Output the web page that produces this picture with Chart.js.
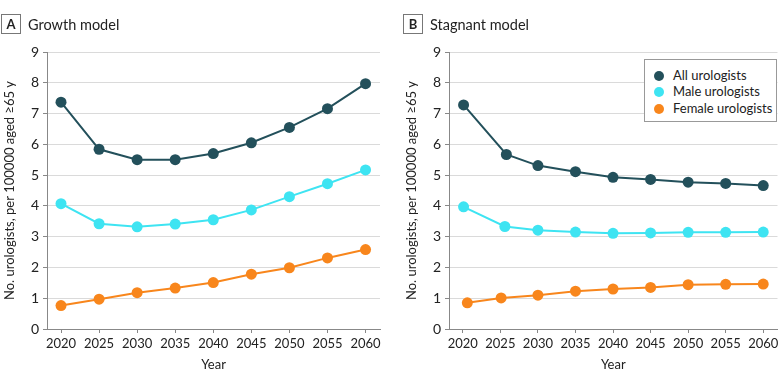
<!DOCTYPE html>
<html>
<head>
<meta charset="utf-8">
<script src="https://cdn.jsdelivr.net/npm/chart.js@4"></script>
<style>
  body { margin: 0; background: #fff; font-family: Lato, sans-serif; color: #222; }
  #wrap { position: relative; width: 783px; height: 384px; overflow: hidden; }
  .panel { position: absolute; top: 0; height: 384px; }
  .head { position: absolute; top: 14px; left: 1px; height: 20px; display: flex; align-items: center; }
  .tag { width: 18px; height: 18px; border: 1px solid #777; font-weight: bold; font-size: 13px;
         display: flex; align-items: center; justify-content: center; }
  .name { margin-left: 7px; font-size: 14.5px; }
  .legend { position: absolute; left: 644px; top: 59px; width: 131px; height: 61px;
            border: 1px solid #999; background: #fff; font-size: 13px; }
  .legend div { position: absolute; left: 28px; height: 17px; line-height: 17px; white-space: nowrap; }
  .legend span { position: absolute; left: -19px; top: 3.5px; width: 10px; height: 10px; border-radius: 50%; }
</style>
</head>
<body>
<div id="wrap">
  <div class="panel" style="left:0;width:390px">
    <canvas id="chartA" width="390" height="384"></canvas>
    <div class="head"><div class="tag">A</div><div class="name">Growth model</div></div>
  </div>
  <div class="panel" style="left:402px;width:381px">
    <canvas id="chartB" width="381" height="384"></canvas>
    <div class="head"><div class="tag">B</div><div class="name">Stagnant model</div></div>
  </div>
  <div class="legend">
    <div style="top:7px"><span style="background:#23505b"></span>All urologists</div>
    <div style="top:23px"><span style="background:#3ee4f2"></span>Male urologists</div>
    <div style="top:40px"><span style="background:#f8861c"></span>Female urologists</div>
  </div>
</div>
<script>
const years = [2020, 2025, 2030, 2035, 2040, 2045, 2050, 2055, 2060];

// Growth model
const allA    = [7.37, 5.84, 5.50, 5.50, 5.70, 6.05, 6.55, 7.16, 7.97];
const maleA   = [4.07, 3.42, 3.32, 3.41, 3.55, 3.87, 4.30, 4.72, 5.17];
const femaleA = [0.76, 0.97, 1.18, 1.33, 1.51, 1.78, 1.99, 2.31, 2.58];

// Stagnant model (markers in the source sit slightly off the year ticks)
const xAllB    = [2020.1, 2025.8, 2030, 2035, 2040, 2045, 2050, 2055, 2060];
const xMaleB   = [2020.1, 2025.6, 2030, 2035, 2040, 2045, 2050, 2055, 2060];
const xFemaleB = [2020.6, 2025.1, 2030, 2035, 2040, 2045, 2050, 2055, 2060];
const allB    = [7.28, 5.67, 5.31, 5.11, 4.93, 4.86, 4.77, 4.73, 4.66];
const maleB   = [3.97, 3.33, 3.21, 3.15, 3.11, 3.12, 3.14, 3.14, 3.15];
const femaleB = [0.85, 1.01, 1.10, 1.23, 1.30, 1.35, 1.44, 1.45, 1.46];

const yTicks = [0, 1, 2, 3, 4, 5, 6, 7, 8, 9];

const colors = { all: "#23505b", male: "#3ee4f2", female: "#f8861c" };

function series(label, xs, ys, color) {
  return {
    label: label,
    data: ys.map((y, i) => ({ x: xs[i], y: y })),
    borderColor: color,
    backgroundColor: color,
    borderWidth: 2,
    pointRadius: 5.5,
    pointBorderWidth: 0,
    pointBackgroundColor: color,
    tension: 0
  };
}

function makeChart(id, datasets, padRight) {
  return new Chart(document.getElementById(id), {
    type: "line",
    data: { datasets: datasets },
    options: {
      responsive: false,
      animation: false,
      layout: { padding: { left: 0, right: padRight, top: 52, bottom: 0 } },
      plugins: { legend: { display: false }, tooltip: { enabled: false } },
      scales: {
        x: {
          type: "linear",
          min: 2018.16,
          max: 2061.9,
          afterBuildTicks: s => { s.ticks = years.map(v => ({ value: v })); },
          afterFit: s => { s.height = 55; },
          grid: { drawOnChartArea: false, drawTicks: true, tickLength: 4, tickColor: "#888" },
          border: { color: "#888", width: 1 },
          ticks: { color: "#222", font: { family: "Lato", size: 13 }, padding: 3, maxRotation: 0,
                   callback: v => String(v) },
          title: { display: true, text: "Year", color: "#222", font: { family: "Lato", size: 13 },
                   padding: { top: 0, bottom: 11 } }
        },
        y: {
          min: 0,
          max: 9,
          afterBuildTicks: s => { s.ticks = yTicks.map(v => ({ value: v })); },
          afterFit: s => { s.width = 47; },
          grid: { color: "#dadada", lineWidth: 1, drawTicks: true, tickLength: 4, tickColor: "#888" },
          border: { color: "#888", width: 1 },
          ticks: { color: "#222", font: { family: "Lato", size: 14 }, padding: 4 },
          title: { display: true, text: "No. urologists, per 100000 aged \u226565 y", color: "#222",
                   font: { family: "Lato", size: 13 }, padding: { top: 2, bottom: 0 } }
        }
      }
    }
  });
}

makeChart("chartA", [
  series("All urologists", years, allA, colors.all),
  series("Male urologists", years, maleA, colors.male),
  series("Female urologists", years, femaleA, colors.female)
], 10);

makeChart("chartB", [
  series("All urologists", xAllB, allB, colors.all),
  series("Male urologists", xMaleB, maleB, colors.male),
  series("Female urologists", xFemaleB, femaleB, colors.female)
], 0);
</script>
</body>
</html>
